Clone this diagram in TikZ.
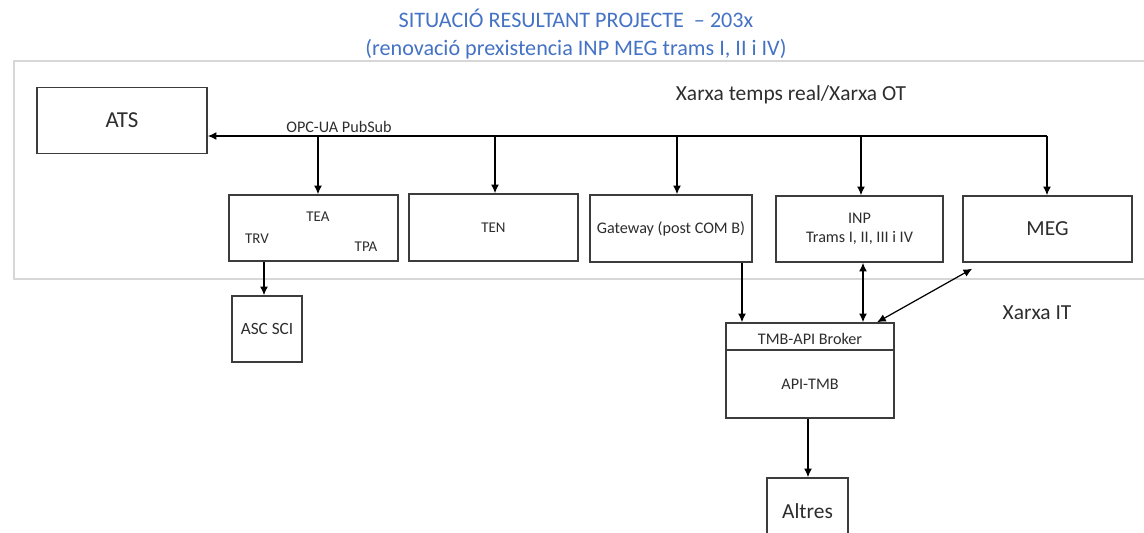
\documentclass[tikz,border=0pt]{standalone}
\usepackage{fontspec}
\setmainfont{Carlito}
\usetikzlibrary{arrows.meta,positioning}

\definecolor{titleblue}{RGB}{68,114,196}
\definecolor{boxline}{RGB}{60,60,60}
\definecolor{txt}{RGB}{45,45,45}
\definecolor{zone}{RGB}{215,215,215}

\begin{document}
\begin{tikzpicture}[x=0.02cm, y=-0.02cm,
  box/.style={draw=boxline, line width=0.8pt, fill=white, text=txt, inner sep=0pt,
    font=\fontsize{9.2}{11}\selectfont},
  sz/.style 2 args={minimum width=#1*0.02cm, minimum height=#2*0.02cm},
  big/.style={font=\fontsize{12.2}{14}\selectfont},
  small/.style={font=\fontsize{8.5}{10}\selectfont},
  lbl/.style={text=txt, inner sep=0pt, font=\fontsize{9.2}{11}\selectfont},
  link/.style={line width=0.7pt, -{Latex[length=5pt,width=4.5pt]}},
  both/.style={line width=0.7pt, {Latex[length=5pt,width=4.5pt]}-{Latex[length=5pt,width=4.5pt]}}]
\useasboundingbox (0,0) rectangle (1144,533);

\draw[zone, line width=1.2pt] (14,61) rectangle (1170,279);

\node[text=titleblue, align=center, inner sep=0pt, font=\fontsize{12.6}{15.6}\selectfont] (title) at (576,34)
  {SITUACIÓ RESULTANT PROJECTE\ \ – 203x\\(renovació prexistencia INP MEG trams I, II i IV)};
\node[lbl, big] (ot) at (791,95) {Xarxa temps real/Xarxa OT};
\node[lbl, big] (it) at (1037,313) {Xarxa IT};

\node[box, font=\fontsize{13}{15}\selectfont, sz={170}{66}] (ats) at (122,120.5) {ATS};
\node[box, sz={169}{66}] (tea) at (313.5,228) {};
\node[lbl, small] (teaname) at (318,217) {TEA};
\node[lbl, small] (trv) at (257,239) {TRV};
\node[lbl, small] (tpa) at (366,247) {TPA};
\node[box, small, sz={169}{67}] (ten) at (493.5,227.5) {TEN};
\node[box, sz={162}{67}] (gw) at (671,228.5) {Gateway (post COM B)};
\node[box, align=center, sz={167}{66}] (inp) at (859.5,229) {INP\\Trams I, II, III i IV};
\node[box, big, sz={169}{66}] (meg) at (1047.5,229) {MEG};
\node[box, font=\fontsize{9.8}{11}\selectfont, sz={70}{66}] (asc) at (267,329) {ASC SCI};
\node[box, sz={168}{95}] (broker) at (810,370.5) {};
\node[lbl] (brokername) at (810,339) {TMB-API Broker};
\node[lbl] (api) at (810,384) {API-TMB};
\node[box, big, sz={81}{66}] (altres) at (807.5,511) {Altres};

\coordinate (busend) at (1047,136);
\draw[link] (busend) -- (ats.east |- busend);
\draw[link] (busend) -- (busend |- meg.north);
\node[lbl, anchor=base] (opc) at (339,133) {OPC-UA PubSub};
\foreach \n/\x in {tea/318, ten/495, gw/677, inp/861} {
  \coordinate (tap-\n) at (\x,136);
  \draw[link] (tap-\n) -- (tap-\n |- \n.north);
}

\draw[boxline, line width=0.8pt] (broker.west |- 0,350) -- (broker.east |- 0,350);
\draw[link] (tea.south -| 264,0) -- (asc.north -| 264,0);
\draw[link] (gw.south -| 742,0) -- (broker.north -| 742,0);
\draw[both] (inp.south -| 863,0) -- (broker.north -| 863,0);
\draw[both] (broker.north -| 877,0) -- ([shift={(10,6)}]meg.south west);
\draw[link] (broker.south -| 808,0) -- (altres.north -| 808,0);
\end{tikzpicture}
\end{document}
